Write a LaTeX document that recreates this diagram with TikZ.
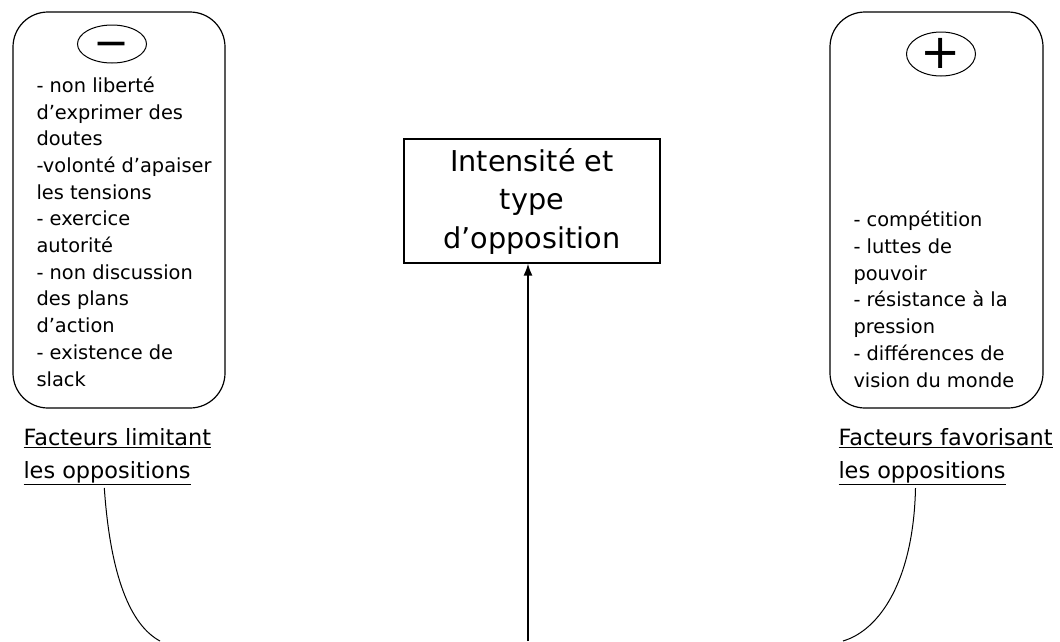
\documentclass[tikz,border=0pt]{standalone}
\usepackage{fontspec}
\setmainfont{DejaVu Sans}
\usepackage{tikz}
\usetikzlibrary{shapes,shapes.geometric,arrows.meta,calc,positioning}

\begin{document}
\begin{tikzpicture}
[x=1pt,y=-1pt,line width=1pt,
 facbox/.style={draw,line width=1.2pt,rounded corners=35pt,inner sep=0pt},
 sign/.style={draw,ellipse,inner sep=0pt,minimum width=69pt},
 liste/.style={anchor=base west,align=left,inner sep=0pt,font=\fontsize{19.4}{26.7}\selectfont},
 titre/.style={anchor=base west,align=left,inner sep=0pt,font=\fontsize{22.4}{33}\selectfont}]
\useasboundingbox (0,0) rectangle (1060,641);
% les deux cadres
\node[facbox,minimum width=212pt,minimum height=396pt] (limit) at (119,210) {};
\node[facbox,minimum width=213pt,minimum height=396pt] (favor) at (936.5,210) {};
\node[sign,minimum height=38pt,text height=26pt,text depth=0pt,font=\fontsize{43}{43}\selectfont] (moins) at (112,44) {−};
\node[sign,minimum height=44pt,text height=29pt,text depth=0pt,font=\fontsize{48}{48}\selectfont] (plus) at (941,54) {+};
% base = derniere ligne
\node[liste] (limitlist) at (36,386) {- non liberté\\d’exprimer des\\doutes\\-volonté d’apaiser\\les tensions\\- exercice\\autorité\\- non discussion\\des plans\\d’action\\- existence de\\slack};
\node[liste] (favorlist) at (853,387) {- compétition\\- luttes de\\pouvoir\\- résistance à la\\pression\\- différences de\\vision du monde};
% centre
\node[draw,line width=1.2pt,minimum width=256pt,minimum height=124pt,align=center,inner sep=0pt,
	font=\fontsize{28.7}{38.5}\selectfont] (opp) at (532,201) {Intensité et\\type\\d’opposition};
% titres
\node[titre] (limitlbl) at (23,478) {\underline{Facteurs limitant}\\\underline{les oppositions}};
\node[titre] (favorlbl) at (838,478) {\underline{Facteurs favorisant}\\\underline{les oppositions}};
\coordinate (lend) at (160,641);
\coordinate (rend) at (843,641);
\coordinate (arrbot) at (528,641);
\draw ([xshift=-13pt]limitlbl.south |- 0,488) .. controls +(6,87) and +(-30,-16) .. (lend);
\draw ([xshift=-30pt]favorlbl.south |- 0,488) .. controls +(-2,92) and +(37,-11) .. (rend);
\draw[-{Latex[length=12pt,width=9pt]},line width=1.6pt] (arrbot) -- (opp.south -| arrbot);
\end{tikzpicture}
\end{document}
